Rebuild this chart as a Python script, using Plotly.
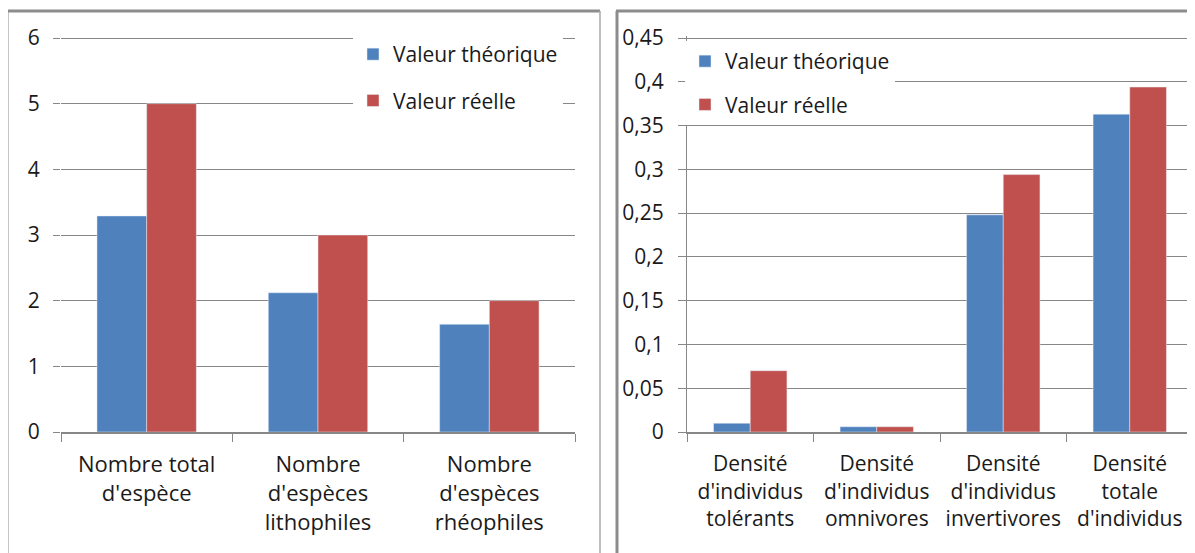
import plotly.graph_objects as go

# The page body adds an 8px offset; the figure is sized so that it ends at the window edge.
OFF = 8
W, H = 1195 - OFF, 553 - OFF

# ---- data ----
left_categories = ["Nombre total<br>d'espèce", "Nombre<br>d'espèces<br>lithophiles", "Nombre<br>d'espèces<br>rhéophiles"]
left_theorique = [3.29, 2.12, 1.64]
left_reelle = [5.0, 3.0, 2.0]
left_tickvals = [0, 1, 2, 3, 4, 5, 6]
left_ticktext = ["0", "1", "2", "3", "4", "5", "6"]
left_max = 6

right_categories = ["Densité<br>d'individus<br>tolérants", "Densité<br>d'individus<br>omnivores",
                    "Densité<br>d'individus<br>invertivores", "Densité<br>totale<br>d'individus"]
right_theorique = [0.010, 0.006, 0.248, 0.363]
right_reelle = [0.070, 0.006, 0.294, 0.394]
right_tickvals = [0, 0.05, 0.1, 0.15, 0.2, 0.25, 0.3, 0.35, 0.4, 0.45]
right_ticktext = ["0", "0,05", "0,1", "0,15", "0,2", "0,25", "0,3", "0,35", "0,4", "0,45"]
right_max = 0.45

series_names = ["Valeur théorique", "Valeur réelle"]
colors = ["#4F81BD", "#C0504D"]

FONT = "Open Sans"
TXT = "#1a1a1a"
GRID = "#878787"

def px_x(x):
    return (x - OFF) / W

def px_y(y):
    return 1 - (y - OFF) / H

fig = go.Figure()

fig.add_trace(go.Bar(x=left_categories, y=left_theorique, name=series_names[0], marker_color=colors[0],
                     xaxis="x", yaxis="y", legend="legend", legendgroup="a"))
fig.add_trace(go.Bar(x=left_categories, y=left_reelle, name=series_names[1], marker_color=colors[1],
                     xaxis="x", yaxis="y", legend="legend", legendgroup="b"))
fig.add_trace(go.Bar(x=right_categories, y=right_theorique, name=series_names[0], marker_color=colors[0],
                     xaxis="x2", yaxis="y2", legend="legend2", legendgroup="c"))
fig.add_trace(go.Bar(x=right_categories, y=right_reelle, name=series_names[1], marker_color=colors[1],
                     xaxis="x2", yaxis="y2", legend="legend2", legendgroup="d"))

# small headroom so the top gridline is drawn (plotly skips gridlines on the range edge)
PAD = 1.004
y0_px, ytop_px = 432, 38
ydom = [px_y(y0_px), px_y(y0_px - (y0_px - ytop_px) * PAD)]

xaxis_common = dict(showline=True, linecolor=GRID, linewidth=2, ticks="outside", ticklen=8,
                    tickcolor=GRID, tickwidth=1, tickson="boundaries", showgrid=False, automargin=False,
                    tickangle=0, ticklabelstandoff=12)

fig.update_layout(
    width=W, height=H,
    margin=dict(l=0, r=0, t=0, b=0, autoexpand=False),
    paper_bgcolor="white", plot_bgcolor="white",
    barmode="group", bargap=0.42, bargroupgap=0,
    font=dict(family=FONT, color=TXT),
    xaxis=dict(domain=[px_x(61), px_x(575)], anchor="y", tickfont=dict(family=FONT, size=22, color=TXT),
               **xaxis_common),
    yaxis=dict(domain=ydom, anchor="x", range=[0, left_max * PAD], tickvals=left_tickvals, ticktext=left_ticktext,
               showgrid=True, gridcolor=GRID, gridwidth=1, zeroline=False, showline=False,
               ticks="outside", ticklen=7, tickcolor=GRID, tickwidth=1,
               automargin=False, ticklabelstandoff=9, tickfont=dict(family=FONT, size=21, color=TXT)),
    xaxis2=dict(domain=[px_x(687), px_x(1193)], anchor="y2", tickfont=dict(family=FONT, size=21, color=TXT),
                **xaxis_common),
    yaxis2=dict(domain=ydom, anchor="x2", range=[0, right_max * PAD], tickvals=right_tickvals, ticktext=right_ticktext,
                showgrid=True, gridcolor=GRID, gridwidth=1, zeroline=False, showline=True,
                linecolor=GRID, linewidth=1, ticks="outside", ticklen=8, tickcolor=GRID, automargin=False,
                ticklabelstandoff=10, tickfont=dict(family=FONT, size=21, color=TXT)),
    legend=dict(x=px_x(353), y=px_y(34), xanchor="left", yanchor="top", bgcolor="white",
                font=dict(family=FONT, size=21, color=TXT), tracegroupgap=16, traceorder="grouped"),
    legend2=dict(x=px_x(685), y=px_y(41), xanchor="left", yanchor="top", bgcolor="white",
                 font=dict(family=FONT, size=21, color=TXT), tracegroupgap=13, traceorder="grouped"),
    shapes=[
        dict(type="line", xref="paper", yref="paper", x0=px_x(7), x1=px_x(7), y0=0, y1=px_y(11),
             line=dict(color="#8c8c8c", width=3)),
        dict(type="line", xref="paper", yref="paper", x0=px_x(6), x1=px_x(600), y0=px_y(11), y1=px_y(11),
             line=dict(color="#8c8c8c", width=3)),
        dict(type="line", xref="paper", yref="paper", x0=px_x(600), x1=px_x(600), y0=0, y1=px_y(11),
             line=dict(color="#a8a8a8", width=1.5)),
        dict(type="line", xref="paper", yref="paper", x0=px_x(617), x1=px_x(617), y0=0, y1=px_y(11),
             line=dict(color="#8c8c8c", width=3)),
        dict(type="line", xref="paper", yref="paper", x0=px_x(616), x1=1, y0=px_y(11), y1=px_y(11),
             line=dict(color="#8c8c8c", width=3)),
    ],
)

fig.write_html("out.html")
